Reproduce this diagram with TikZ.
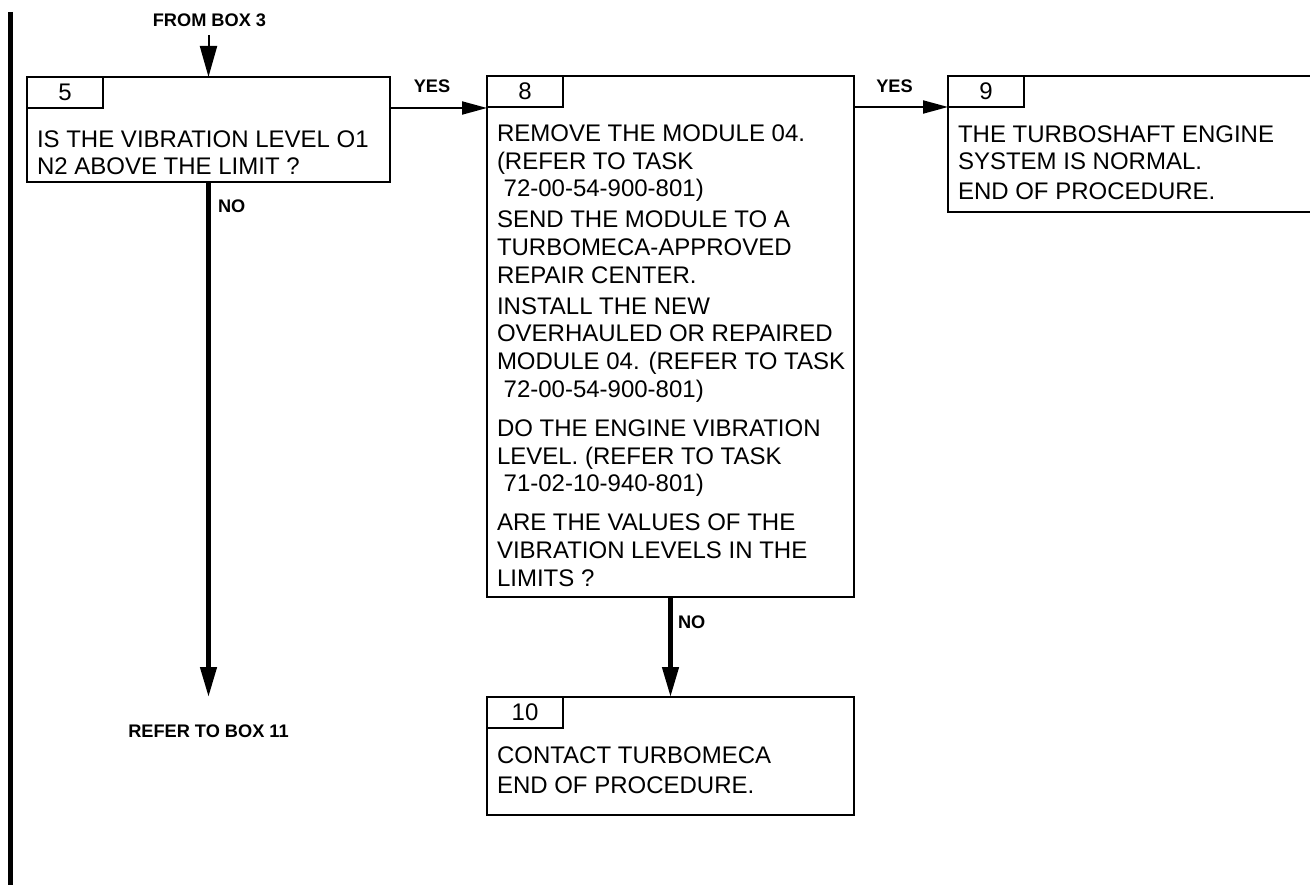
\documentclass[tikz,border=0pt]{standalone}
\usepackage{fontspec}
\setmainfont{Liberation Sans}
\usetikzlibrary{arrows.meta}
\begin{document}
\begin{tikzpicture}[x=1pt,y=-1pt,
  box/.style={draw, line width=2pt, rectangle, inner sep=0pt, outer sep=0pt, anchor=north west},
  tabbox/.style={box, minimum width=76pt, minimum height=31pt, font=\fontsize{24}{27}\selectfont},
  txt/.style={inner sep=0pt, outer sep=0pt, anchor=base west, font=\fontsize{24}{27}\selectfont},
  lbl/.style={inner sep=0pt, outer sep=0pt, font=\fontsize{18.2}{20}\selectfont\bfseries},
  thinarrow/.style={line width=2pt, -{Triangle[length=25pt,width=13pt]}},
  fromarrow/.style={line width=2pt, -{Triangle[length=31pt,width=17pt]}},
  thickarrow/.style={line width=4.5pt, -{Triangle[length=30pt,width=16pt]}},
]
\useasboundingbox (0,0) rectangle (1310,885);
\fill[white] (0,0) rectangle (1310,885);

% left margin bar
\draw[line width=5pt] (10,12) -- (10,885);

% boxes
\node[box, minimum width=363pt, minimum height=105pt] (box5) at (27,77) {};
\node[tabbox] (tab5) at (27,77) {5};
\node[box, minimum width=367pt, minimum height=521pt] (box8) at (487,76) {};
\node[tabbox] (tab8) at (487,76) {8};
\node[box, draw=none, minimum width=362pt, minimum height=136pt] (box9) at (948,76) {};
\draw[line width=2pt] (box9.north east) -- (box9.north west) -- (box9.south west) -- (box9.south east);
\node[tabbox] (tab9) at (948,76) {9};
\node[box, minimum width=367pt, minimum height=118pt] (box10) at (487,697) {};
\node[tabbox] (tab10) at (487,697) {10};

% box 5 text
\node[txt] (t5a) at (37,148) {IS THE VIBRATION LEVEL O1};
\node[txt] (t5b) at (37,175) {N2 ABOVE THE LIMIT ?};

% box 8 text
\node[txt] (t8a) at (497,141.5) {REMOVE THE MODULE 04.};
\node[txt] (t8b) at (497,169.2) {(REFER TO TASK};
\node[txt] (t8c) at (497,196.9) {\ 72-00-54-900-801)};
\node[txt] (t8d) at (497,227.9) {SEND THE MODULE TO A};
\node[txt] (t8e) at (497,255.6) {TURBOMECA-APPROVED};
\node[txt] (t8f) at (497,283.3) {REPAIR CENTER.};
\node[txt] (t8g) at (497,314.3) {INSTALL THE NEW};
\node[txt] (t8h) at (497,342) {OVERHAULED OR REPAIRED};
\node[txt] (t8i) at (497,369.7) {MODULE 04. (REFER TO TASK};
\node[txt] (t8j) at (497,397.4) {\ 72-00-54-900-801)};
\node[txt] (t8k) at (497,436.4) {DO THE ENGINE VIBRATION};
\node[txt] (t8l) at (497,464.1) {LEVEL. (REFER TO TASK};
\node[txt] (t8m) at (497,491.8) {\ 71-02-10-940-801)};
\node[txt] (t8n) at (497,530.8) {ARE THE VALUES OF THE};
\node[txt] (t8o) at (497,558.5) {VIBRATION LEVELS IN THE};
\node[txt] (t8p) at (497,586.2) {LIMITS ?};

% box 9 text
\node[txt] (t9a) at (958,143) {THE TURBOSHAFT ENGINE};
\node[txt] (t9b) at (958,170) {SYSTEM IS NORMAL.};
\node[txt] (t9c) at (958,200) {END OF PROCEDURE.};

% box 10 text
\node[txt] (t10a) at (497,763) {CONTACT TURBOMECA};
\node[txt] (t10b) at (497,793) {END OF PROCEDURE.};

% labels
\node[lbl, anchor=base] (from3) at (209.5,27) {FROM BOX 3};
\node[lbl, anchor=base] (refer11) at (208.5,737) {REFER TO BOX 11};
\node[lbl, anchor=base] (yes1) at (432,93) {YES};
\node[lbl, anchor=base] (yes2) at (894.5,93) {YES};
\node[lbl, anchor=base west] (no1) at (218,213) {NO};
\node[lbl, anchor=base west] (no2) at (678,628) {NO};

% connectors
\coordinate (fromstart) at (box5.north |- 0,35);
\draw[fromarrow] (fromstart) -- (box5.north);
\coordinate (no1end) at (box5.south |- 0,697);
\draw[thickarrow] (box5.south) -- (no1end);
\draw[thinarrow] (box5.east |- tab5.south) -- (box8.west |- tab5.south);
\draw[thinarrow] (box8.east |- tab8.south) -- (box9.west |- tab8.south);
\draw[thickarrow] (box8.south) -- (box10.north);
\end{tikzpicture}
\end{document}
